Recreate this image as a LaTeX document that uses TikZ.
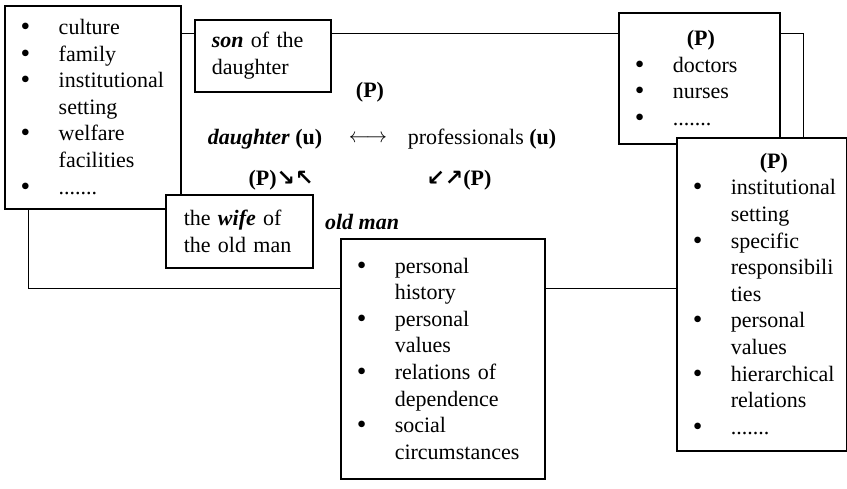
\documentclass[tikz,border=0pt]{standalone}
\usepackage{fontspec}
\setmainfont{Liberation Serif}
\newfontfamily\arrowfont{DejaVu Sans}
\usepackage{tikz}

\newcommand{\itm}[1]{\hspace*{16pt}\makebox[38pt][l]{\raisebox{-1pt}{\smash{\scalebox{1.25}{\textbullet}}}}#1}
\newcommand{\cnt}[1]{\hspace*{54pt}#1}

\begin{document}
\begin{tikzpicture}[x=1pt,y=-1pt,
    box/.style={draw, line width=1.5pt, fill=white, anchor=north west, align=left,
        inner xsep=0pt, inner ysep=0pt, font=\fontsize{22}{26.6}\selectfont},
    lbl/.style={inner sep=0pt, font=\fontsize{22}{26.6}\selectfont},
    link/.style={line width=1pt}]
    \useasboundingbox (0,0) rectangle (847,488);

    % Nodes
    \node[box, text width=176pt, minimum height=203pt] (ctx) at (4,5)
        {\itm{culture}\\ \itm{family}\\ \itm{institutional}\\ \cnt{setting}\\
         \itm{welfare}\\ \cnt{facilities}\\ \itm{.......}};
    \node[box, text width=136pt, minimum height=72pt] (son) at (194,19)
        {\hspace*{17pt}\textbf{\textit{son}} of the\\ \hspace*{17pt}daughter};
    \node[box, text width=161pt, minimum height=131pt] (doc) at (618,12)
        {\hspace*{68pt}\textbf{(P)}\\ \itm{doctors}\\ \itm{nurses}\\ \itm{.......}};
    \node[box, text width=170pt, minimum height=313pt] (inst) at (676,137)
        {\hspace*{83pt}\textbf{(P)}\\ \itm{institutional}\\ \cnt{setting}\\
         \itm{specific}\\ \cnt{responsibili}\\ \cnt{ties}\\ \itm{personal}\\
         \cnt{values}\\ \itm{hierarchical}\\ \cnt{relations}\\ \itm{.......}};
    \node[box, text width=147pt, minimum height=73pt] (wife) at (165,194)
        {\hspace*{18pt}the \textbf{\textit{wife}} of\\ \hspace*{18pt}the old man};
    \node[box, text width=204pt, minimum height=240pt] (man) at (340,238)
        {\itm{personal}\\ \cnt{history}\\ \itm{personal}\\ \cnt{values}\\
         \itm{relations of}\\ \cnt{dependence}\\ \itm{social}\\ \cnt{circumstances}};

    \node[lbl] (pu) at (370,92) {\textbf{(P)}};
    \node[lbl] (dau) at (265,139) {\textbf{\textit{daughter} (u)}};
    \node[lbl] (rel) at (368,139) {$\longleftrightarrow$};
    \node[lbl] (pro) at (482,139) {professionals \textbf{(u)}};
    \node[lbl] (pl) at (281,180) {\textbf{(P)}{\arrowfont\bfseries ↘↖}};
    \node[lbl] (pr) at (459,180) {{\arrowfont\bfseries ↙↗}\textbf{(P)}};
    \node[lbl] (old) at (362,222) {\textbf{\textit{old man}}};

    % Edges
    \coordinate (top) at (0,33);
    \coordinate (turn) at (803,33);
    \coordinate (low) at (28,288);
    \draw[link] (ctx.east |- top) -- (son.west |- top);
    \draw[link] (son.east |- top) -- (doc.west |- top);
    \draw[link] (doc.east |- turn) -- (turn) -- (inst.north -| turn);
    \draw[link] (ctx.south -| low) |- (man.west |- low);
    \draw[link] (man.east |- low) -- (inst.west |- low);
\end{tikzpicture}
\end{document}
